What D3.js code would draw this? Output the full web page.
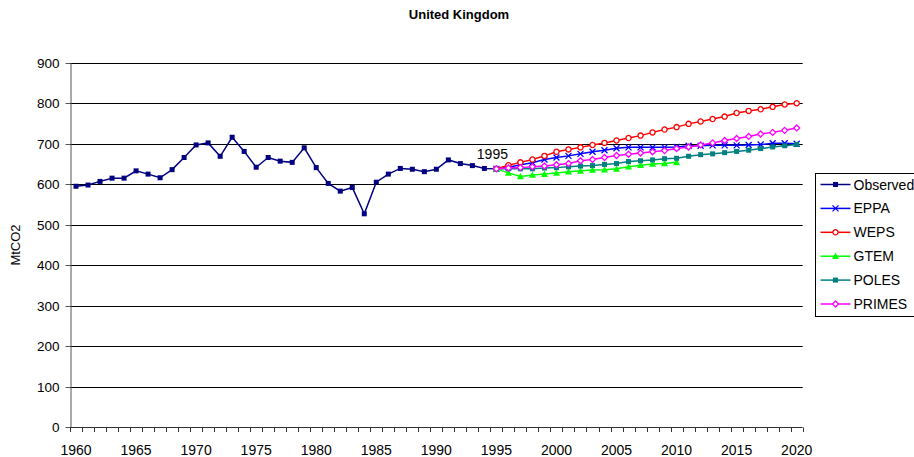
<!DOCTYPE html>
<html>
<head>
<meta charset="utf-8">
<script src="https://cdn.jsdelivr.net/npm/d3@7"></script>
<style>
  body { margin: 0; background: #fff; }
  svg { display: block; font-family: "Liberation Sans", Arial, sans-serif; }
</style>
</head>
<body>
<div id="chart"></div>
<script>
// chart data
var title = "United Kingdom";
var yLabel = "MtCO2";
var firstYear = 1960;
var lastYear = 2020;
var projStart = 1995;
var yTicks = [0, 100, 200, 300, 400, 500, 600, 700, 800, 900];
var xTickLabels = [1960, 1965, 1970, 1975, 1980, 1985, 1990, 1995, 2000, 2005, 2010, 2015, 2020];
var seriesNames = ["Observed", "EPPA", "WEPS", "GTEM", "POLES", "PRIMES"];

// observed 1960-1995
var observed = [595, 598, 607, 615, 615, 633, 625, 616, 636, 666, 697, 702, 669, 716, 681, 642, 666, 657,
                654, 690, 641, 602, 583, 592, 527, 605, 625, 639, 637, 631, 637, 660, 651, 646, 639, 638];
// projections from 1995
var eppa = [638, 642, 648, 653, 661, 666, 670, 675, 680, 684, 689, 691, 691, 691, 691, 692, 695, 695, 696,
            696, 696, 697, 698, 701, 701, 700];
var weps = [638, 647, 654, 661, 670, 680, 686, 691, 697, 702, 708, 714, 720, 728, 735, 741, 749, 755, 761,
            767, 776, 781, 785, 791, 797, 800];
var gtem = [638, 628, 619, 623, 625, 628, 631, 633, 635, 636, 638, 643, 647, 650, 651, 654];
var poles = [638, 638, 638, 638, 640, 641, 643, 645, 646, 649, 651, 656, 658, 660, 663, 664, 669, 673, 675,
             678, 681, 684, 688, 692, 695, 698];
var primes = [638, 640, 641, 643, 645, 648, 651, 658, 661, 666, 671, 674, 677, 680, 683, 688, 692, 697, 702,
              708, 713, 718, 724, 728, 733, 739];

var W = 914, H = 457;
var plotLeft = 70, plotRight = 802.7, plotTop = 62.7, plotBottom = 427.3;

var years = d3.range(firstYear, lastYear + 1);

var x = d3.scaleBand().domain(years).range([plotLeft, plotRight]);
var y = d3.scaleLinear().domain([0, 900]).range([plotBottom, plotTop]);
var xc = function(yr) { return x(yr) + x.bandwidth() / 2; };

var toPoints = function(start, vals) {
    return vals.map(function(v, i) { return {year: start + i, value: v}; });
};

var series = [
    {name: "Observed", color: "#000080", marker: "square", data: toPoints(firstYear, observed)},
    {name: "EPPA", color: "#0000ff", marker: "cross", data: toPoints(projStart, eppa)},
    {name: "WEPS", color: "#ff0000", marker: "circle", data: toPoints(projStart, weps)},
    {name: "GTEM", color: "#00ff00", marker: "triangle", data: toPoints(projStart, gtem)},
    {name: "POLES", color: "#008080", marker: "square", data: toPoints(projStart, poles)},
    {name: "PRIMES", color: "#ff00ff", marker: "diamond", data: toPoints(projStart, primes)}
];

var svg = d3.select("#chart")
    .append("svg")
    .attr("width", W)
    .attr("height", H);

svg.append("rect").attr("width", W).attr("height", H).attr("fill", "#fff");

// title
svg.append("text")
    .attr("x", 459)
    .attr("y", 18.5)
    .attr("text-anchor", "middle")
    .style("font-size", "13px")
    .style("font-weight", "bold")
    .text(title);

// gridlines
svg.append("g")
    .selectAll("line")
    .data(yTicks.filter(function(d) { return d > 0; }))
    .enter().append("line")
    .attr("x1", plotLeft).attr("x2", plotRight)
    .attr("y1", function(d) { return Math.round(y(d)) + 0.5; })
    .attr("y2", function(d) { return Math.round(y(d)) + 0.5; })
    .attr("stroke", "#000")
    .attr("stroke-width", 1);

// y axis
var yAxis = svg.append("g")
    .attr("transform", "translate(" + (Math.round(plotLeft) + 0.5) + ",0)")
    .call(d3.axisLeft(y).tickValues(yTicks).tickSize(5).tickPadding(6).tickSizeOuter(0));
yAxis.select(".domain").attr("stroke", "#555");
yAxis.selectAll(".tick line").attr("stroke", "#555");
yAxis.selectAll("text")
    .style("font-size", "13.5px")
    .style("font-family", "Liberation Sans, Arial, sans-serif")
    .attr("fill", "#000");
yAxis.selectAll(".tick").attr("transform", function(d) {
    return "translate(0," + (Math.round(y(d)) + 0.5) + ")";
});

// x axis: ticks at band edges, labels at band centers
var xg = svg.append("g");
xg.append("line")
    .attr("x1", plotLeft).attr("x2", plotRight)
    .attr("y1", Math.round(plotBottom) + 0.5).attr("y2", Math.round(plotBottom) + 0.5)
    .attr("stroke", "#333");
var edges = years.map(function(d) { return x(d); }).concat([plotRight]);
xg.selectAll("line.tk")
    .data(edges)
    .enter().append("line")
    .attr("class", "tk")
    .attr("x1", function(d) { return Math.round(d) + 0.5; })
    .attr("x2", function(d) { return Math.round(d) + 0.5; })
    .attr("y1", Math.round(plotBottom) + 0.5)
    .attr("y2", Math.round(plotBottom) + 5)
    .attr("stroke", "#333");
xg.selectAll("text")
    .data(xTickLabels)
    .enter().append("text")
    .attr("x", function(d) { return xc(d); })
    .attr("y", 455)
    .attr("text-anchor", "middle")
    .style("font-size", "14px")
    .text(function(d) { return d; });

// y label
svg.append("text")
    .attr("transform", "translate(20,245) rotate(-90)")
    .attr("text-anchor", "middle")
    .style("font-size", "13px")
    .text(yLabel);

// marker drawing
var drawMarker = function(g, type, color) {
    if (type === "square") {
        g.append("rect").attr("x", -2.5).attr("y", -2.5).attr("width", 5).attr("height", 5)
            .attr("fill", color);
    } else if (type === "cross") {
        g.append("path").attr("d", "M-3,-3L3,3M-3,3L3,-3")
            .attr("stroke", color).attr("stroke-width", 1.3).attr("fill", "none");
    } else if (type === "circle") {
        g.append("circle").attr("r", 2.6)
            .attr("fill", "#fff").attr("stroke", color).attr("stroke-width", 1.3);
    } else if (type === "triangle") {
        g.append("path").attr("d", "M0,-3.5L3.5,2.8L-3.5,2.8Z").attr("fill", color);
    } else if (type === "diamond") {
        g.append("path").attr("d", "M0,-3L3,0L0,3L-3,0Z")
            .attr("fill", "#fff").attr("stroke", color).attr("stroke-width", 1.3);
    }
};

var line = d3.line()
    .x(function(d) { return xc(d.year); })
    .y(function(d) { return y(d.value); });

series.forEach(function(s) {
    var g = svg.append("g");
    g.append("path")
        .datum(s.data)
        .attr("d", line)
        .attr("fill", "none")
        .attr("stroke", s.color)
        .attr("stroke-width", 1.5);
    g.selectAll("g.m")
        .data(s.data)
        .enter().append("g")
        .attr("class", "m")
        .attr("transform", function(d) { return "translate(" + xc(d.year) + "," + y(d.value) + ")"; })
        .each(function() { drawMarker(d3.select(this), s.marker, s.color); });
});

// 1995 annotation
svg.append("text")
    .attr("x", xc(projStart) - 4)
    .attr("y", y(observed[observed.length - 1]) - 10)
    .attr("text-anchor", "middle")
    .style("font-size", "14px")
    .text(String(projStart));

// legend
var legend = svg.append("g").attr("transform", "translate(815.5,173.5)");
legend.append("rect")
    .attr("width", 120).attr("height", 143)
    .attr("fill", "#fff").attr("stroke", "#000");
series.forEach(function(s, i) {
    var ly = 11 + i * 23.9;
    legend.append("line")
        .attr("x1", 5).attr("x2", 35)
        .attr("y1", ly).attr("y2", ly)
        .attr("stroke", s.color).attr("stroke-width", 1.5);
    var mg = legend.append("g").attr("transform", "translate(20," + ly + ")");
    drawMarker(mg, s.marker, s.color);
    legend.append("text")
        .attr("x", 38)
        .attr("y", ly + 5)
        .style("font-size", "14px")
        .text(s.name);
});
</script>
</body>
</html>
